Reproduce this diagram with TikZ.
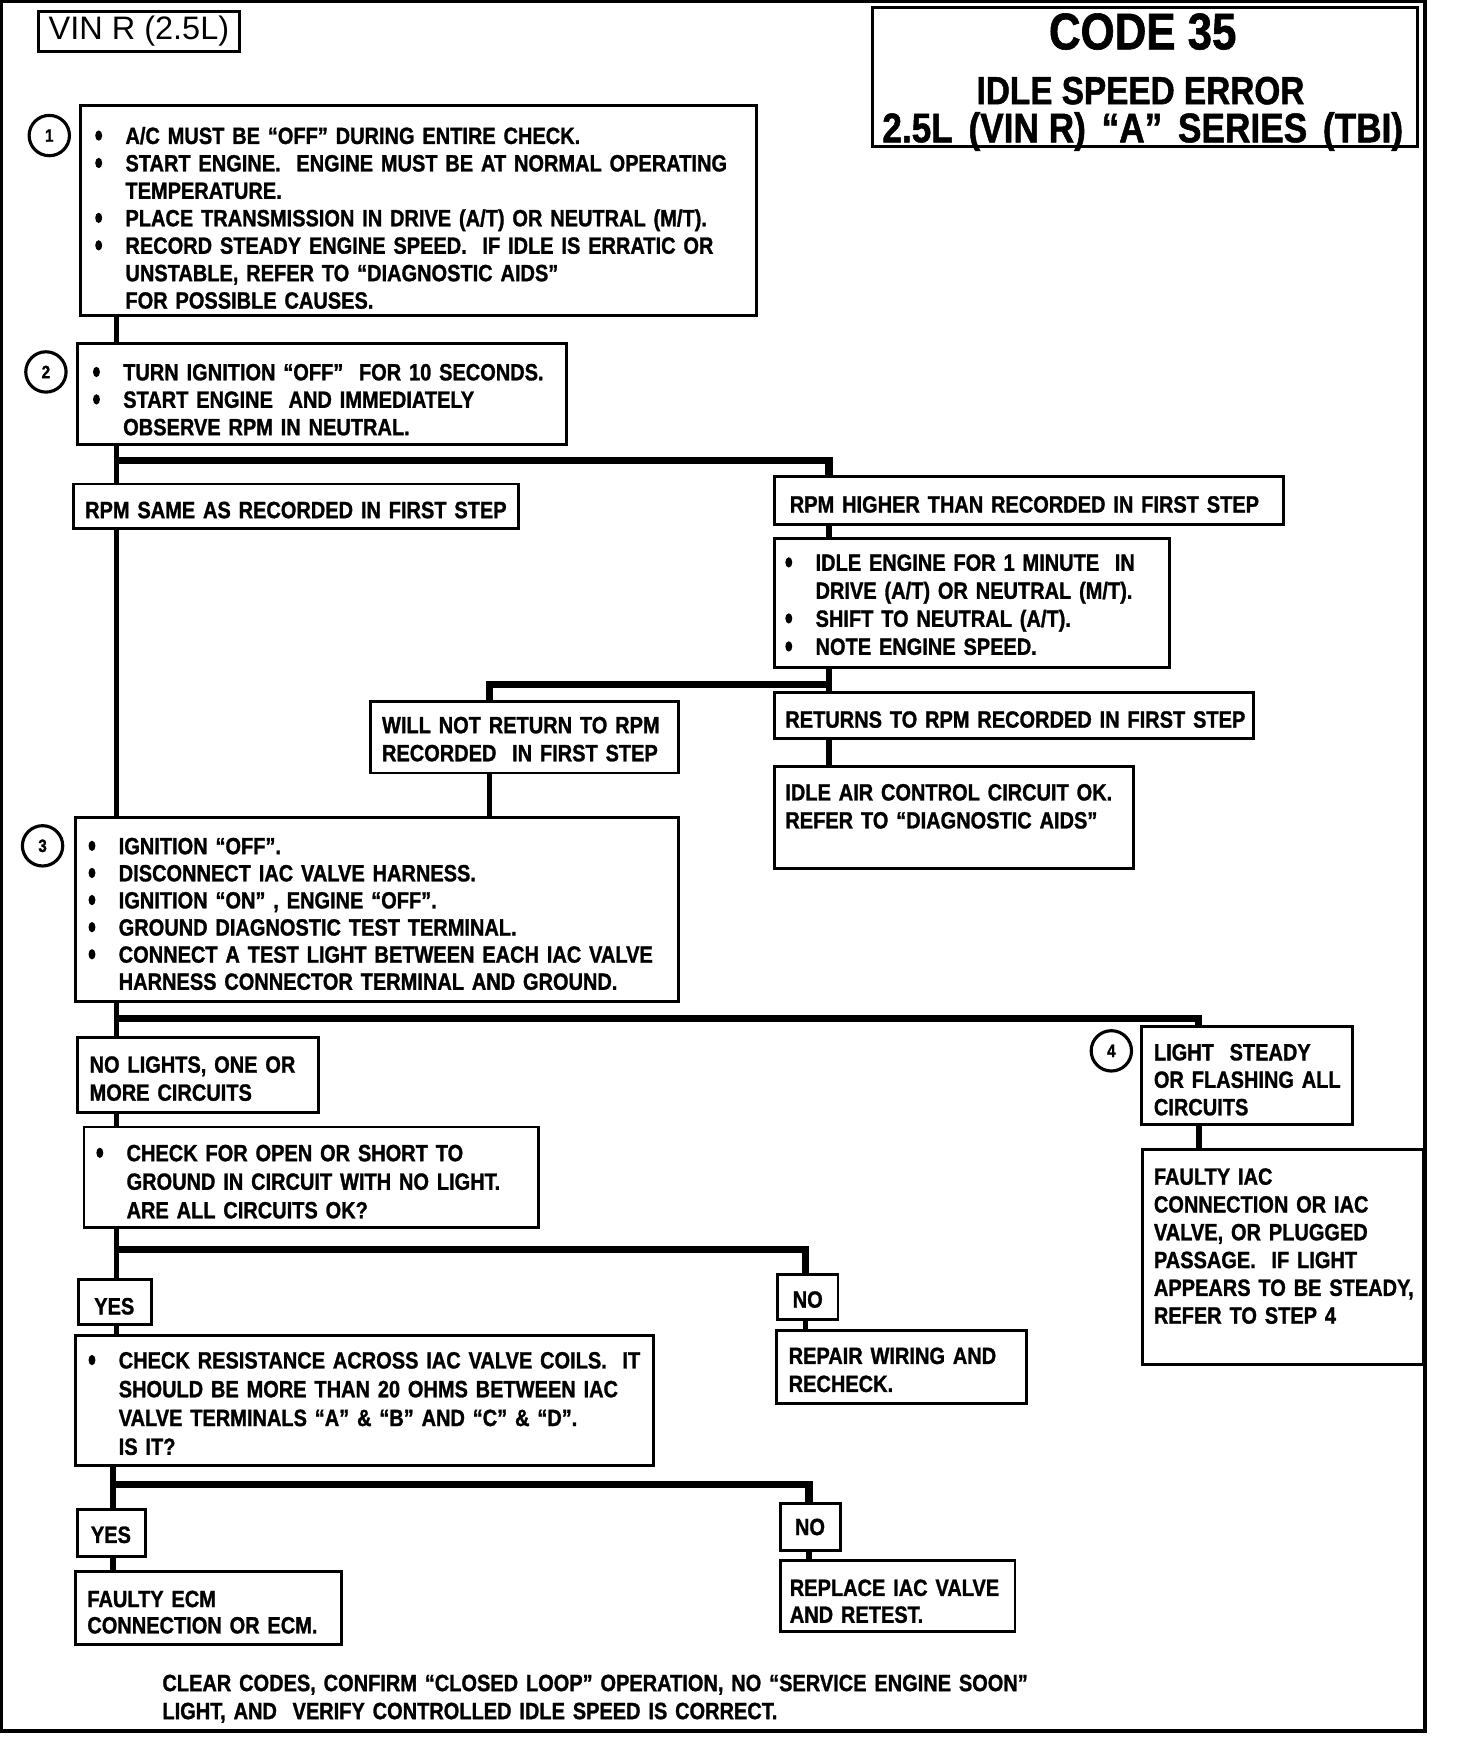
\documentclass[tikz,border=0pt]{standalone}
\usepackage{fontspec}
\setmainfont{Liberation Sans}
\newfontfamily\cond{Liberation Sans}[FakeStretch=0.85,FakeBold=1.2]
\usetikzlibrary{calc}
\pgfdeclarelayer{background}
\pgfsetlayers{background,main}
\newcommand\bul{\makebox[27pt][l]{\tikz[baseline=0pt]\fill (3.6pt,7.5pt) ellipse[x radius=3.1pt,y radius=4.6pt];}}
\newcommand\ind{\hspace*{27pt}}
\newcommand\mybox[5]{\node[box,minimum width={#4-#2},minimum height={#5-#3}] (#1) at (#2,#3) {};}
\tikzset{
  x=1pt,y=-1pt,
  box/.style={draw,line width=2.6pt,fill=white,inner sep=0pt,outer sep=0pt,anchor=north west},
  txt/.style={anchor=base west,inner sep=0pt,outer sep=0pt,text width=1100pt,align=left,
              font=\cond\bfseries\fontsize{21}{#1}\selectfont},
  txt/.default=24.5,
  lbl/.style={anchor=center,inner sep=0pt,font=\cond\bfseries\fontsize{21}{24}\selectfont},
  circ/.style={circle,draw,line width=2.8pt,minimum size=36pt,inner sep=0pt,fill=white,
               font=\cond\bfseries\fontsize{16}{20}\selectfont},
  conn/.style={line width=5.2pt,line join=miter,line cap=butt},
  bar/.style={line width=6.5pt,line join=miter,line cap=butt},
  frame/.style={line width=3pt}
}
\begin{document}
\begin{tikzpicture}
\useasboundingbox (0,0) rectangle (1300,1571);
\draw[frame] (1.5,1.5) rectangle (1272,1545);

% header
\mybox{vin}{34}{10}{214}{46}
\node[anchor=center,inner sep=0pt,font=\fontsize{29}{32}\selectfont] (vint) at (124,28) {VIN R (2.5L)};
\mybox{code}{779}{7}{1265}{131}
\node[anchor=base,inner sep=0pt,font=\cond\bfseries\fontsize{46}{50}\selectfont] (codet) at (1020,44) {CODE 35};
\node[anchor=base,inner sep=0pt,font=\cond\bfseries\fontsize{35}{40}\selectfont] (idlet) at (1018,93) {IDLE SPEED ERROR};
\node[anchor=base,inner sep=0pt,font=\cond\bfseries\fontsize{37}{40}\selectfont] (sert) at (1020,127) {2.5L\hspace{14pt}(VIN R)\hspace{14pt}“A”\hspace{14pt}SERIES\hspace{14pt}(TBI)};

% step 1
\node[circ] (c1) at (44,121) {1};
\mybox{b1}{72}{94}{675}{282}
\node[txt] (b1t) at (85,128.5) {\bul A/C MUST BE “OFF” DURING ENTIRE CHECK.\\
\bul START ENGINE.\ \ ENGINE MUST BE AT NORMAL OPERATING\\
\ind TEMPERATURE.\\
\bul PLACE TRANSMISSION IN DRIVE (A/T) OR NEUTRAL (M/T).\\
\bul RECORD STEADY ENGINE SPEED.\ \ IF IDLE IS ERRATIC OR\\
\ind UNSTABLE, REFER TO “DIAGNOSTIC AIDS”\\
\ind FOR POSSIBLE CAUSES.};

% step 2
\node[circ] (c2) at (41,332) {2};
\mybox{b2}{69}{307}{506}{397}
\node[txt] (b2t) at (83,339.5) {\bul TURN IGNITION “OFF”\ \ FOR 10 SECONDS.\\
\bul START ENGINE\ \ AND IMMEDIATELY\\
\ind OBSERVE RPM IN NEUTRAL.};

\mybox{rs}{66}{432}{463}{472}
\node[txt] (rst) at (76,462.5) {RPM SAME AS RECORDED IN FIRST STEP};
\mybox{rh}{691}{425}{1146}{468}
\node[txt] (rht) at (705,457.5) {RPM HIGHER THAN RECORDED IN FIRST STEP};
\mybox{ie}{691}{481}{1044}{596}
\node[txt=25] (iet) at (701,509.5) {\bul IDLE ENGINE FOR 1 MINUTE\ \ IN\\
\ind DRIVE (A/T) OR NEUTRAL (M/T).\\
\bul SHIFT TO NEUTRAL (A/T).\\
\bul NOTE ENGINE SPEED.};
\mybox{wn}{331}{626}{606}{690}
\node[txt=25] (wnt) at (341,654.5) {WILL NOT RETURN TO RPM\\
RECORDED\ \ IN FIRST STEP};
\mybox{rt}{691}{618}{1119}{659}
\node[txt] (rtt) at (701,649.5) {RETURNS TO RPM RECORDED IN FIRST STEP};
\mybox{ok}{691}{684}{1012}{775}
\node[txt=25] (okt) at (701,714.5) {IDLE AIR CONTROL CIRCUIT OK.\\
REFER TO “DIAGNOSTIC AIDS”};

% step 3
\node[circ] (c3) at (38,755) {3};
\mybox{b3}{67}{730}{606}{894}
\node[txt=24.2] (b3t) at (79,762.5) {\bul IGNITION “OFF”.\\
\bul DISCONNECT IAC VALVE HARNESS.\\
\bul IGNITION “ON” , ENGINE “OFF”.\\
\bul GROUND DIAGNOSTIC TEST TERMINAL.\\
\bul CONNECT A TEST LIGHT BETWEEN EACH IAC VALVE\\
\ind HARNESS CONNECTOR TERMINAL AND GROUND.};

\mybox{nl}{69}{926}{284}{993}
\node[txt=25] (nlt) at (80,957.5) {NO LIGHTS, ONE OR\\
MORE CIRCUITS};
\mybox{co}{75}{1006}{481}{1096}
\node[txt=25.5] (cot) at (86,1036.5) {\bul CHECK FOR OPEN OR SHORT TO\\
\ind GROUND IN CIRCUIT WITH NO LIGHT.\\
\ind ARE ALL CIRCUITS OK?};

% step 4
\node[circ] (c4) at (992,938) {4};
\mybox{ls}{1019}{916}{1207}{1004}
\node[txt] (lst) at (1030,946.5) {LIGHT\ \ STEADY\\
OR FLASHING ALL\\
CIRCUITS};
\mybox{fi}{1020}{1026}{1271}{1218}
\node[txt=24.8] (fit) at (1030,1057.5) {FAULTY IAC\\
CONNECTION OR IAC\\
VALVE, OR PLUGGED\\
PASSAGE.\ \ IF LIGHT\\
APPEARS TO BE STEADY,\\
REFER TO STEP 4};

\mybox{y1}{70}{1142}{135}{1182}
\node[lbl] (y1t) at (102,1166) {YES};
\mybox{n1}{694}{1138}{748}{1178}
\node[lbl] (n1t) at (721,1160) {NO};
\mybox{rw}{693}{1188}{916}{1253}
\node[txt=25] (rwt) at (704,1217.5) {REPAIR WIRING AND\\
RECHECK.};
\mybox{cr}{67}{1192}{583}{1308}
\node[txt=25.7] (crt) at (79,1221.5) {\bul CHECK RESISTANCE ACROSS IAC VALVE COILS.\ \ IT\\
\ind SHOULD BE MORE THAN 20 OHMS BETWEEN IAC\\
\ind VALVE TERMINALS “A” \& “B” AND “C” \& “D”.\\
\ind IS IT?};

\mybox{y2}{69}{1347}{130}{1389}
\node[lbl] (y2t) at (99,1370) {YES};
\mybox{fe}{67}{1403}{305}{1468}
\node[txt=23.5] (fet) at (78,1434.5) {FAULTY ECM\\
CONNECTION OR ECM.};
\mybox{n2}{697}{1342}{750}{1384}
\node[lbl] (n2t) at (723,1363) {NO};
\mybox{ri}{697}{1393}{906}{1456}
\node[txt=24] (rit) at (705,1424.5) {REPLACE IAC VALVE\\
AND RETEST.};

\node[txt=25] (foot) at (145,1509.5) {CLEAR CODES, CONFIRM “CLOSED LOOP” OPERATION, NO “SERVICE ENGINE SOON”\\
LIGHT, AND\ \ VERIFY CONTROLLED IDLE SPEED IS CORRECT.};

% connectors
\coordinate (xA) at (104,0);
\coordinate (xB) at (740,0);
\coordinate (xC) at (437,0);
\coordinate (xD) at (1070,0);
\coordinate (xE) at (719,0);
\coordinate (xF) at (101,0);
\coordinate (xG) at (722,0);
\coordinate (j1) at (104,411);
\coordinate (j2) at (740,611);
\coordinate (j3) at (104,909);
\coordinate (j4) at (104,1115);
\coordinate (j5) at (101,1325);
\begin{pgfonlayer}{background}
\fill[white] (0,0) rectangle (1300,1571);
\draw[conn] (b1.south -| xA) -- (b2.north -| xA);
\draw[conn] (b2.south -| xA) -- (b3.north -| xA);
\draw[bar] (j1) -- (j1 -| xB) -- (rh.north -| xB);
\draw[conn] (rh.south -| xB) -- (ie.north -| xB);
\draw[conn] (ie.south -| xB) -- (rt.north -| xB);
\draw[bar] (j2) -- (j2 -| xC) -- (wn.north -| xC);
\draw[conn] (wn.south -| xC) -- (b3.north -| xC);
\draw[conn] (rt.south -| xB) -- (ok.north -| xB);
\draw[conn] (b3.south -| xA) -- (co.north -| xA);
\draw[bar] (j3) -- (j3 -| xD) -- (ls.north -| xD);
\draw[conn] (ls.south -| xD) -- (fi.north -| xD);
\draw[conn] (co.south -| xA) -- (cr.north -| xA);
\draw[bar] (j4) -- (j4 -| xE) -- (n1.north -| xE);
\draw[conn] (n1.south -| xE) -- (rw.north -| xE);
\draw[conn] (cr.south -| xF) -- (fe.north -| xF);
\draw[bar] (j5) -- (j5 -| xG) -- (n2.north -| xG);
\draw[conn] (n2.south -| xG) -- (ri.north -| xG);
\end{pgfonlayer}
\end{tikzpicture}
\end{document}
